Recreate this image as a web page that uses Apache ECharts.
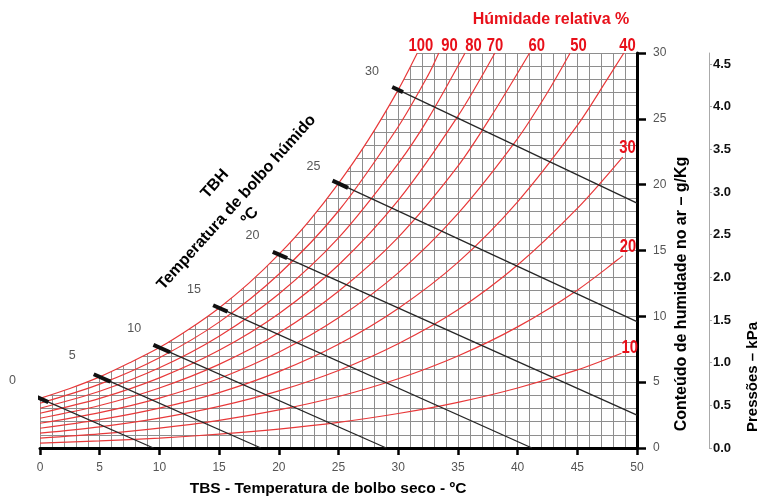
<!DOCTYPE html>
<html><head><meta charset="utf-8">
<script src="https://cdn.jsdelivr.net/npm/echarts@6/dist/echarts.min.js"></script>
<style>html,body{margin:0;padding:0;background:#fff}#c{width:760px;height:499px}</style>
</head><body><div id="c"></div>
<script>
const FONT = "'Liberation Sans', Arial, Helvetica, sans-serif";

// Relative humidity curves: [TBS °C, humidity content g/kg]
const rh100 = [[0,3.77],[2.5,4.52],[5,5.40],[7.5,6.47],[10,7.63],[12.5,9.04],[15,10.64],[17.5,12.52],[20,14.7],[22.5,17.2],[25,20.1],[27.5,23.4],[30,27.2],[31.6,30]];
const rh90 = [[0,3.40],[5,4.85],[10,6.86],[15,9.56],[20,13.2],[25,18.0],[30,24.4],[32.5,28.3],[33.4,30]];
const rh80 = [[0,3.02],[5,4.31],[10,6.09],[15,8.49],[20,11.7],[25,15.96],[30,21.6],[32.5,25.0],[35.6,30]];
const rh70 = [[0,2.64],[5,3.77],[10,5.33],[15,7.42],[20,10.2],[25,13.9],[30,18.8],[35,25.2],[38.1,30]];
const rh60 = [[0,2.26],[5,3.23],[10,4.56],[15,6.35],[20,8.73],[25,11.9],[30,16.0],[35,21.4],[38,25.5],[41.0,30]];
const rh50 = [[0,1.88],[5,2.69],[10,3.79],[15,5.28],[20,7.27],[25,9.89],[30,13.3],[35,17.8],[40,23.5],[42.5,27.0],[44.4,30]];
const rh40 = [[0,1.50],[5,2.15],[10,3.03],[15,4.21],[20,5.80],[25,7.88],[30,10.6],[35,14.1],[40,18.7],[45,24.5],[47.5,28.0],[48.9,30]];
const rh30 = [[0,1.13],[5,1.61],[10,2.27],[15,3.16],[20,4.34],[25,5.89],[30,7.92],[35,10.5],[40,13.9],[45,18.2],[48.8,22.1]];
const rh20 = [[0,0.75],[5,1.07],[10,1.51],[15,2.10],[20,2.89],[25,3.91],[30,5.26],[35,6.99],[40,9.2],[45,11.99],[48.8,14.6]];
const rh10 = [[0,0.375],[5,0.535],[10,0.754],[15,1.05],[20,1.44],[25,1.95],[30,2.62],[35,3.47],[40,4.56],[45,5.93],[48.7,7.2]];
const rhCurves = [rh100, rh90, rh80, rh70, rh60, rh50, rh40, rh30, rh20, rh10];

// Wet-bulb (TBH) lines
const wbTemps  = [0, 5, 10, 15, 20, 25, 30];
const wbStartW = [3.77, 5.40, 7.63, 10.64, 14.7, 20.1, 27.2];
const wbEndT   = [9.5, 18.5, 29.0, 41.2, 50, 50, 50];
const wbEndW   = [0, 0, 0, 0, 2.5, 9.6, 18.6];
const wbStubT0 = [-0.35, 4.5, 9.5, 14.5, 19.5, 24.5, 29.5];
const wbStubW0 = [3.91, 5.60, 7.83, 10.84, 14.9, 20.31, 27.42];
const wbStubT1 = [0.7, 5.9, 10.9, 15.7, 20.7, 25.8, 30.4];
const wbStubW1 = [3.49, 5.04, 7.27, 10.36, 14.42, 19.76, 27.03];
const wbLabelT = [-2.3, 2.7, 7.9, 12.9, 17.8, 22.9, 27.8];
const wbLabelW = [5.1, 7.0, 9.1, 12.0, 16.1, 21.4, 28.6];

// RH labels
const rhTopLabels = ['100','90','80','70','60','50','40'];
const rhTopT = [31.9, 34.3, 36.3, 38.1, 41.6, 45.1, 49.2];
const rhTopW = 30.55;
const rhSideLabels = ['30','20','10'];
const rhSideT = [49.2, 49.25, 49.4];
const rhSideW = [22.8, 15.3, 7.6];

const RED = '#e8393a';
const RED_TXT = '#e8101a';
const GRIDC = '#8e8e8e';
const SMOOTH = 0.3;

const series = [];
// white cover between saturation curve and the top of the chart (hides grid there)
series.push({type:'line', data: rh100, smooth:SMOOTH, symbol:'none',
  lineStyle:{opacity:0}, areaStyle:{color:'#fff', opacity:1, origin:'end'}, z:1, silent:true});
rhCurves.forEach(c => series.push({type:'line', data:c, smooth:SMOOTH, symbol:'none',
  lineStyle:{color:RED, width:1.2}, z:3, silent:true}));
wbTemps.forEach((t, i) => {
  series.push({type:'line', data:[[t, wbStartW[i]], [wbEndT[i], wbEndW[i]]], symbol:'none',
    lineStyle:{color:'#262626', width:1.3}, z:4, silent:true});
  series.push({type:'line', data:[[wbStubT0[i], wbStubW0[i]], [wbStubT1[i], wbStubW1[i]]], symbol:'none', clip:false,
    lineStyle:{color:'#111', width:4}, z:5, silent:true});
});
series.push({type:'scatter', symbolSize:0, clip:false, z:6, silent:true,
  data: wbTemps.map((t, i) => [wbLabelT[i], wbLabelW[i], String(t)]),
  label:{show:true, position:'inside', formatter:p => p.value[2], color:'#2a2a2a', fontSize:12.5, fontFamily:FONT}});

const baseGraphic = [
  {type:'text', x:551, y:20, z:10, style:{text:'Húmidade relativa %', fill:RED_TXT, fontSize:16, fontWeight:'bold', fontFamily:FONT, align:'center', verticalAlign:'middle'}},
  {type:'text', x:328, y:489, z:10, style:{text:'TBS - Temperatura de bolbo seco - ºC', fill:'#000', fontSize:15.5, fontWeight:'bold', fontFamily:FONT, align:'center', verticalAlign:'middle'}},
  {type:'text', x:682, y:294, rotation:Math.PI/2, z:10, style:{text:'Conteúdo de humidade no ar – g/Kg', fill:'#000', fontSize:16, fontWeight:'bold', fontFamily:FONT, align:'center', verticalAlign:'middle'}},
  {type:'text', x:753, y:377, rotation:Math.PI/2, z:10, style:{text:'Pressões – kPa', fill:'#000', fontSize:15, fontWeight:'bold', fontFamily:FONT, align:'center', verticalAlign:'middle'}},
  {type:'text', x:215, y:184, rotation:0.838, z:10, style:{text:'TBH', fill:'#000', fontSize:16, fontWeight:'bold', fontFamily:FONT, align:'center', verticalAlign:'middle'}},
  {type:'text', x:236.5, y:202.5, rotation:0.838, z:10, style:{text:'Temperatura de bolbo húmido', fill:'#000', fontSize:16, fontWeight:'bold', fontFamily:FONT, align:'center', verticalAlign:'middle'}},
  {type:'text', x:250, y:216, rotation:0.838, z:10, style:{text:'ºC', fill:'#000', fontSize:16, fontWeight:'bold', fontFamily:FONT, align:'center', verticalAlign:'middle'}}
];

const option = {
  animation:false,
  backgroundColor:'#fff',
  textStyle:{fontFamily:FONT},
  grid:{left:40, right:123, top:53, bottom:51},
  xAxis:{type:'value', min:0, max:50, interval:5,
    axisLine:{onZero:false, lineStyle:{color:'#000', width:3}},
    axisTick:{length:7, lineStyle:{color:'#000', width:2.5}},
    axisLabel:{color:'#555', fontSize:12, margin:14, fontFamily:FONT},
    splitLine:{show:true, lineStyle:{color:GRIDC, width:1}},
    minorTick:{show:false, splitNumber:5},
    minorSplitLine:{show:true, lineStyle:{color:GRIDC, width:1}}},
  yAxis:[
    {type:'value', position:'right', min:0, max:30, interval:5,
      axisLine:{show:true, onZero:false, lineStyle:{color:'#000', width:3}},
      axisTick:{show:true, length:9, lineStyle:{color:'#000', width:2.5}},
      axisLabel:{color:'#555', fontSize:12, margin:16, fontFamily:FONT},
      splitLine:{show:true, lineStyle:{color:GRIDC, width:1}},
      minorTick:{show:false, splitNumber:5},
      minorSplitLine:{show:true, lineStyle:{color:GRIDC, width:1}}},
    {type:'value', position:'right', offset:72, min:0, max:4.63, interval:0.5,
      axisLine:{show:true, onZero:false, lineStyle:{color:'#aaa', width:1}},
      axisTick:{show:true, length:3, lineStyle:{color:'#aaa', width:1}},
      axisLabel:{color:'#111', fontSize:13, fontWeight:'bold', margin:4, showMaxLabel:false, fontFamily:FONT,
        formatter:v => v.toFixed(1)},
      splitLine:{show:false}}
  ],
  graphic: baseGraphic,
  series: series
};
const chart = echarts.init(document.getElementById('c'), null, {renderer:'canvas'});
chart.setOption(option);

// RH value labels, positioned through the chart's own scales, drawn condensed
const rhLabelGraphic = [];
const addRh = (txt, t, w) => {
  const p = chart.convertToPixel({xAxisIndex:0, yAxisIndex:0}, [t, w]);
  rhLabelGraphic.push({type:'text', x:p[0], y:p[1], scaleX:0.78, z:10,
    style:{text:txt, fill:RED_TXT, fontSize:19, fontWeight:'bold', fontFamily:FONT, align:'center', verticalAlign:'middle'}});
};
rhTopLabels.forEach((s, i) => addRh(s, rhTopT[i], rhTopW));
rhSideLabels.forEach((s, i) => addRh(s, rhSideT[i], rhSideW[i]));
chart.setOption({graphic: baseGraphic.concat(rhLabelGraphic)});
</script>
</body></html>
